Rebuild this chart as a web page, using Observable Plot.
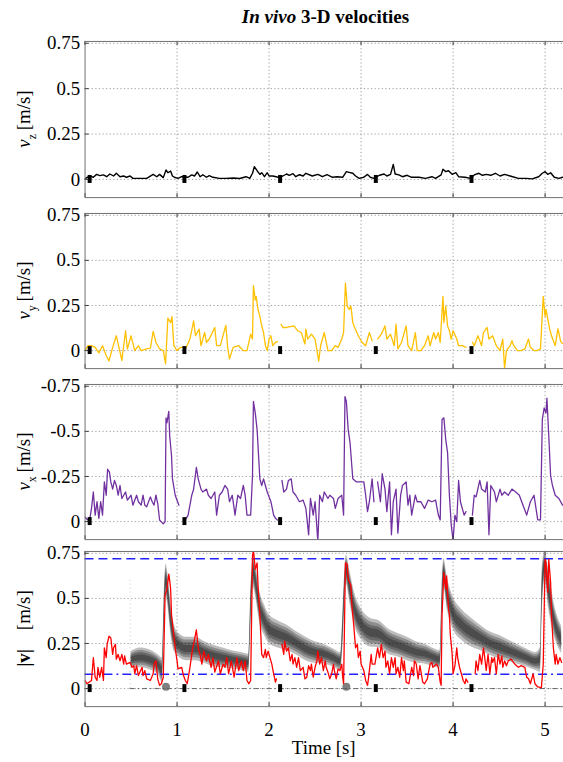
<!DOCTYPE html>
<html><head><meta charset="utf-8">
<script src="https://cdn.jsdelivr.net/npm/d3@7"></script>
<script src="https://cdn.jsdelivr.net/npm/@observablehq/plot@0.6"></script>
<style>
html,body{margin:0;padding:0;background:#fff;overflow:hidden;width:563px;height:762px}
#title{height:30px;width:481px;padding-left:85px;text-align:center;font:bold 19px "Liberation Serif",serif;line-height:34px;white-space:nowrap}
svg{display:block}
</style></head><body>
<div id="title"><i>In vivo</i> 3-D velocities</div>
<div id="charts"></div>
<script>
// ---- data (time [s], value [m/s]); null = gap between cardiac cycles ----
const xTicks = [0, 1, 2, 3, 4, 5];
const yTicksPos = [0, 0.25, 0.5, 0.75];
const yTicksNeg = [0, -0.25, -0.5, -0.75];
const ecgMarkers = [0.05, 1.08, 2.12, 3.16, 4.2];
const vLimits = [0.72, 0.08];          // upper dashed / lower dash-dot blue lines
const greyBaseStart = 0.49;

const vz = [[0,0.005],[0.054,0.02],[0.09,0.012],[0.126,0.028],[0.16,0.021],[0.2,0.025],[0.235,0.015],[0.27,0.03],[0.31,0.019],[0.34,0.034],[0.38,0.015],[0.42,0.019],[0.45,0.012],[0.49,0.019],[0.52,0.006],[0.6,0.006],[0.67,0.006],[0.74,0.028],[0.78,0.015],[0.81,0.028],[0.85,0.01],[0.88,0.052],[0.9,0.037],[0.93,0.046],[0.95,0.019],[0.97,0.012],[1.01,0.006],[1.05,0.015],[1.12,0.012],[1.16,0.025],[1.19,0.019],[1.22,0.041],[1.25,0.015],[1.28,0.026],[1.32,0.012],[1.35,0.021],[1.39,0.012],[1.46,0.006],[1.53,0.006],[1.61,0.008],[1.68,0.005],[1.75,0.015],[1.79,0.006],[1.82,0.034],[1.84,0.07],[1.87,0.048],[1.9,0.028],[1.92,0.037],[1.95,0.015],[1.98,0.037],[2.0,0.019],[2.04,0.019],[2.1,0.012],[2.15,0.019],[2.19,0.03],[2.22,0.023],[2.26,0.032],[2.29,0.015],[2.33,0.026],[2.37,0.019],[2.4,0.034],[2.47,0.019],[2.53,0.028],[2.58,0.015],[2.63,0.026],[2.69,0.012],[2.74,0.015],[2.8,0.012],[2.84,0.043],[2.87,0.039],[2.91,0.034],[2.94,0.019],[2.98,0.006],[3.03,0.012],[3.07,0.028],[3.1,0.012],[3.14,0.006],[3.2,0.023],[3.25,0.03],[3.28,0.019],[3.32,0.028],[3.35,0.083],[3.37,0.03],[3.41,0.025],[3.45,0.015],[3.5,0.023],[3.55,0.012],[3.63,0.012],[3.7,0.006],[3.77,0.015],[3.81,0.006],[3.87,0.025],[3.89,0.056],[3.92,0.043],[3.95,0.048],[3.99,0.028],[4.03,0.037],[4.06,0.015],[4.13,0.012],[4.19,0.006],[4.23,0.025],[4.28,0.034],[4.32,0.023],[4.36,0.028],[4.41,0.023],[4.46,0.034],[4.51,0.019],[4.56,0.028],[4.62,0.019],[4.71,0.006],[4.79,0.006],[4.86,0.003],[4.93,0.015],[4.97,0.034],[5.0,0.043],[5.03,0.028],[5.06,0.037],[5.1,0.012],[5.15,0.006],[5.19,0.012]];

const vy = [[0,0],[0.03,0.027],[0.07,0.027],[0.11,0.018],[0.15,-0.013],[0.19,0.027],[0.23,-0.027],[0.26,-0.058],[0.3,0.018],[0.34,0.082],[0.38,-0.009],[0.4,-0.055],[0.44,0.11],[0.46,0.009],[0.5,0.082],[0.54,0],[0.58,0.027],[0.61,0],[0.67,0.009],[0.71,0.013],[0.74,0.106],[0.77,0.046],[0.81,0.009],[0.85,0],[0.875,-0.073],[0.9,0.18],[0.93,0.155],[0.945,0.188],[0.965,0.027],[1.0,0],[1.04,0.018],[1.1,0.018],[1.14,0.064],[1.18,0.164],[1.2,0.082],[1.24,0.119],[1.26,0.027],[1.3,0.1],[1.32,0.046],[1.35,0.064],[1.41,0.128],[1.43,0.027],[1.47,0.027],[1.53,0.14],[1.55,0.018],[1.57,-0.046],[1.61,0.018],[1.67,0.027],[1.72,0],[1.76,0],[1.8,0.091],[1.82,0.064],[1.83,0.36],[1.85,0.28],[1.86,0.3],[1.88,0.228],[1.9,0.19],[1.92,0.137],[1.94,0.1],[1.96,0.027],[1.98,0],[2.0,0.064],[2.02,0.082],[2.04,0.027],[2.07,0.046],[2.09,0.05],[2.11,null],[2.13,0.146],[2.15,0.128],[2.19,0.128],[2.23,0.133],[2.27,0.137],[2.31,0.11],[2.35,0.1],[2.39,0.036],[2.4,0.119],[2.42,0.064],[2.46,0.091],[2.5,0.064],[2.54,-0.058],[2.56,0.027],[2.6,0.1],[2.64,0],[2.68,0],[2.72,0.027],[2.75,0.018],[2.79,0.064],[2.81,0.1],[2.83,0.374],[2.85,0.246],[2.87,0.228],[2.89,0.246],[2.91,0.155],[2.93,0.128],[2.97,0.082],[3.01,0.046],[3.05,0.027],[3.09,0.1],[3.12,0.055],[3.15,null],[3.18,0.064],[3.22,0.091],[3.26,0.137],[3.28,0.064],[3.32,0.091],[3.36,0.027],[3.38,0.146],[3.4,0.009],[3.44,0.046],[3.47,0.1],[3.49,0.137],[3.51,0.027],[3.55,0],[3.59,0.1],[3.61,0],[3.65,0],[3.69,0.027],[3.73,0.082],[3.75,0.027],[3.79,0.1],[3.81,0.064],[3.84,0.1],[3.86,0.046],[3.89,0.3],[3.9,0.155],[3.92,0.246],[3.94,0.137],[3.96,0.11],[3.98,0.064],[4.0,0.11],[4.04,0.064],[4.06,0.027],[4.1,0.027],[4.14,0.018],[4.18,null],[4.21,0.046],[4.23,0.027],[4.27,0.082],[4.31,0.027],[4.33,0.1],[4.37,0.128],[4.39,0.064],[4.43,0.082],[4.47,0.027],[4.51,0],[4.54,0.064],[4.56,-0.1],[4.58,0],[4.62,0.027],[4.64,0.055],[4.66,0.027],[4.7,0],[4.74,0],[4.78,0.009],[4.82,0.064],[4.84,0.018],[4.88,0],[4.91,0],[4.95,0.009],[4.98,0.3],[5.0,0.19],[5.01,0.228],[5.05,0.119],[5.07,0.082],[5.11,0.027],[5.14,0.12],[5.17,0.05],[5.19,0.04]];

const vx = [[0,-0.024],[0.03,-0.009],[0.05,-0.009],[0.07,-0.073],[0.09,-0.164],[0.11,-0.036],[0.13,-0.11],[0.15,-0.018],[0.17,-0.11],[0.19,-0.036],[0.21,-0.22],[0.23,-0.146],[0.245,-0.29],[0.265,-0.274],[0.28,-0.22],[0.3,-0.18],[0.32,-0.228],[0.34,-0.2],[0.36,-0.146],[0.38,-0.2],[0.4,-0.128],[0.44,-0.164],[0.46,-0.119],[0.5,-0.146],[0.52,-0.091],[0.56,-0.146],[0.58,-0.11],[0.61,-0.091],[0.63,-0.146],[0.65,-0.091],[0.67,-0.082],[0.71,-0.137],[0.73,-0.11],[0.75,-0.091],[0.77,-0.146],[0.79,-0.1],[0.81,-0.009],[0.85,0.013],[0.87,0],[0.88,-0.575],[0.89,-0.547],[0.91,-0.611],[0.92,-0.474],[0.94,-0.365],[0.95,-0.237],[0.98,-0.146],[1.02,-0.091],[1.06,null],[1.1,-0.018],[1.12,-0.036],[1.16,-0.146],[1.18,-0.18],[1.21,-0.3],[1.23,-0.237],[1.26,-0.18],[1.28,-0.164],[1.32,-0.18],[1.34,-0.146],[1.37,-0.128],[1.41,-0.164],[1.43,-0.036],[1.46,-0.146],[1.49,-0.164],[1.52,-0.2],[1.55,-0.18],[1.57,-0.11],[1.6,-0.146],[1.63,-0.036],[1.66,-0.146],[1.69,-0.128],[1.72,-0.2],[1.74,-0.146],[1.76,-0.036],[1.8,-0.036],[1.82,-0.255],[1.83,-0.666],[1.85,-0.602],[1.87,-0.51],[1.9,-0.237],[1.92,-0.2],[1.94,-0.237],[1.96,-0.2],[1.98,-0.164],[2.02,-0.11],[2.05,-0.036],[2.07,-0.018],[2.09,-0.009],[2.11,null],[2.14,-0.228],[2.16,-0.164],[2.19,-0.18],[2.21,-0.228],[2.24,-0.237],[2.26,-0.164],[2.29,-0.146],[2.33,-0.11],[2.37,-0.119],[2.4,-0.073],[2.43,0.073],[2.45,-0.128],[2.48,-0.036],[2.5,-0.11],[2.53,0.11],[2.55,-0.146],[2.58,-0.11],[2.6,-0.164],[2.64,-0.128],[2.66,-0.146],[2.7,-0.128],[2.72,-0.073],[2.75,-0.128],[2.79,-0.146],[2.81,-0.036],[2.825,-0.693],[2.84,-0.666],[2.86,-0.51],[2.88,-0.438],[2.91,-0.237],[2.95,-0.22],[2.99,-0.22],[3.03,-0.22],[3.05,-0.146],[3.07,-0.055],[3.09,-0.11],[3.12,-0.237],[3.14,-0.11],[3.16,null],[3.18,-0.22],[3.21,-0.11],[3.23,-0.265],[3.26,-0.18],[3.28,-0.055],[3.31,-0.22],[3.33,0.073],[3.35,-0.11],[3.38,-0.18],[3.4,0.064],[3.43,-0.146],[3.45,-0.2],[3.49,-0.22],[3.51,-0.091],[3.53,-0.146],[3.55,-0.036],[3.59,-0.146],[3.61,-0.11],[3.65,-0.11],[3.69,-0.073],[3.73,-0.119],[3.77,-0.11],[3.81,-0.119],[3.84,-0.036],[3.86,-0.009],[3.88,-0.566],[3.9,-0.575],[3.92,-0.456],[3.94,-0.383],[3.96,-0.146],[3.98,0.018],[4.0,0.104],[4.02,-0.036],[4.04,0],[4.06,-0.228],[4.08,-0.11],[4.12,-0.036],[4.14,-0.055],[4.18,null],[4.21,-0.036],[4.23,-0.146],[4.25,-0.137],[4.29,-0.228],[4.31,-0.18],[4.35,-0.164],[4.37,-0.22],[4.39,0.073],[4.41,-0.2],[4.45,-0.164],[4.47,-0.11],[4.51,-0.18],[4.53,-0.146],[4.56,-0.164],[4.6,-0.146],[4.64,-0.18],[4.68,-0.164],[4.72,-0.146],[4.76,-0.091],[4.8,-0.036],[4.84,-0.11],[4.88,-0.146],[4.92,-0.009],[4.95,-0.009],[4.97,-0.566],[4.99,-0.63],[5.01,-0.602],[5.02,-0.684],[5.04,-0.474],[5.06,-0.255],[5.08,-0.2],[5.11,-0.146],[5.15,-0.128],[5.19,-0.091]];

const vmag = [[0,0.045],[0.02,0.027],[0.07,0.045],[0.09,0.172],[0.11,0.063],[0.13,0.045],[0.14,0.118],[0.16,0.063],[0.18,0.118],[0.2,0.045],[0.21,0.226],[0.23,0.172],[0.24,0.245],[0.26,0.29],[0.28,0.281],[0.3,0.19],[0.31,0.226],[0.33,0.245],[0.34,0.163],[0.36,0.19],[0.38,0.154],[0.4,0.19],[0.42,0.136],[0.43,0.181],[0.45,0.136],[0.49,0.145],[0.51,0.118],[0.53,0.127],[0.54,0.082],[0.56,0.127],[0.58,0.072],[0.62,0.118],[0.63,0.072],[0.65,0.1],[0.67,0.054],[0.71,0.045],[0.74,0.082],[0.75,0.136],[0.77,0.154],[0.79,0.054],[0.81,0.018],[0.83,0.027],[0.85,0.063],[0.87,0.516],[0.89,0.553],[0.91,0.634],[0.92,0.598],[0.93,0.553],[0.94,0.408],[0.96,0.317],[0.98,0.226],[1.0,0.154],[1.01,0.109],[1.05,0.118],[1.07,0.072],[1.09,0.045],[1.11,0.027],[1.12,0.054],[1.14,0.118],[1.17,0.226],[1.18,0.245],[1.21,0.326],[1.23,0.226],[1.25,0.19],[1.27,0.136],[1.29,0.208],[1.32,0.154],[1.34,0.19],[1.37,0.118],[1.39,0.172],[1.41,0.091],[1.45,0.154],[1.47,0.082],[1.5,0.136],[1.52,0.118],[1.54,0.172],[1.56,0.082],[1.59,0.154],[1.62,0.063],[1.65,0.172],[1.67,0.1],[1.7,0.154],[1.72,0.1],[1.74,0.154],[1.76,0.045],[1.78,0.027],[1.8,0.045],[1.82,0.734],[1.83,0.77],[1.85,0.661],[1.87,0.697],[1.88,0.571],[1.9,0.408],[1.92,0.19],[1.94,0.172],[1.96,0.217],[1.97,0.172],[1.99,0.208],[2.01,0.172],[2.03,0.136],[2.05,0.082],[2.07,0.036],[2.08,0.054],[2.11,null],[2.14,0.245],[2.16,0.19],[2.17,0.263],[2.19,0.208],[2.21,0.226],[2.23,0.154],[2.25,0.19],[2.26,0.136],[2.28,0.172],[2.3,0.118],[2.32,0.172],[2.34,0.1],[2.37,0.118],[2.39,0.054],[2.41,0.063],[2.43,0.127],[2.45,0.1],[2.46,0.136],[2.48,0.063],[2.5,0.118],[2.52,0.154],[2.53,0.208],[2.55,0.136],[2.57,0.172],[2.59,0.1],[2.61,0.154],[2.62,0.118],[2.64,0.091],[2.66,0.054],[2.68,0.082],[2.7,0.136],[2.71,0.1],[2.73,0.054],[2.75,0.109],[2.77,0.1],[2.79,0.136],[2.8,0.063],[2.81,0.027],[2.83,0.697],[2.85,0.688],[2.86,0.607],[2.89,0.571],[2.9,0.462],[2.92,0.353],[2.94,0.226],[2.96,0.245],[2.97,0.172],[2.99,0.208],[3.0,0.136],[3.03,0.1],[3.05,0.045],[3.07,0.018],[3.08,0.054],[3.11,0.19],[3.12,0.136],[3.15,0.136],[3.18,0.226],[3.2,0.172],[3.22,0.245],[3.24,0.172],[3.26,0.208],[3.27,0.118],[3.29,0.154],[3.31,0.082],[3.33,0.172],[3.35,0.118],[3.37,0.172],[3.38,0.082],[3.4,0.118],[3.42,0.063],[3.44,0.172],[3.46,0.1],[3.47,0.154],[3.49,0.036],[3.52,0.027],[3.55,0.118],[3.57,0.072],[3.58,0.154],[3.6,0.136],[3.62,0.054],[3.64,0.127],[3.67,0.036],[3.69,0.027],[3.72,0.054],[3.75,0.136],[3.77,0.145],[3.78,0.118],[3.82,0.136],[3.84,0.118],[3.86,0.036],[3.87,0.018],[3.88,0.408],[3.9,0.643],[3.92,0.553],[3.93,0.625],[3.95,0.444],[3.96,0.408],[3.97,0.299],[3.99,0.19],[4.0,0.082],[4.02,0.127],[4.04,0.226],[4.05,0.172],[4.07,0.118],[4.09,0.082],[4.11,0.045],[4.13,0.027],[4.14,0.054],[4.16,0.036],[4.2,null],[4.24,0.082],[4.25,0.154],[4.27,0.1],[4.29,0.19],[4.31,0.136],[4.33,0.226],[4.34,0.19],[4.36,0.1],[4.38,0.19],[4.4,0.082],[4.42,0.172],[4.43,0.145],[4.45,0.172],[4.47,0.082],[4.49,0.19],[4.51,0.136],[4.53,0.181],[4.54,0.118],[4.56,0.154],[4.58,0.127],[4.6,0.154],[4.63,0.163],[4.67,0.136],[4.71,0.118],[4.74,0.127],[4.78,0.118],[4.8,0.063],[4.82,0.054],[4.84,0.027],[4.87,0.082],[4.89,0.027],[4.92,0.009],[4.96,0.005],[4.98,0.136],[5.0,0.716],[5.01,0.697],[5.03,0.534],[5.04,0.716],[5.06,0.589],[5.07,0.408],[5.09,0.226],[5.11,0.136],[5.12,0.19],[5.14,0.136],[5.16,0.172],[5.18,0.145]];

// grey probabilistic band under |v|: [time, centre, half-spread]
const greyBand = [[0.5,0.16,0.045],[0.6,0.17,0.055],[0.7,0.16,0.055],[0.8,0.13,0.055],[0.84,0.1,0.07],[0.86,0.4,0.11],[0.88,0.6,0.09],[0.9,0.55,0.09],[0.93,0.4,0.09],[0.97,0.28,0.075],[1.02,0.24,0.065],[1.1,0.22,0.065],[1.2,0.22,0.065],[1.3,0.2,0.06],[1.4,0.18,0.06],[1.5,0.17,0.055],[1.6,0.16,0.05],[1.7,0.15,0.05],[1.78,0.14,0.05],[1.8,0.4,0.11],[1.83,0.65,0.09],[1.86,0.58,0.09],[1.9,0.45,0.09],[1.95,0.38,0.085],[2.0,0.33,0.08],[2.1,0.3,0.075],[2.2,0.28,0.07],[2.3,0.25,0.065],[2.4,0.22,0.065],[2.5,0.2,0.06],[2.6,0.19,0.055],[2.7,0.17,0.05],[2.78,0.15,0.05],[2.81,0.4,0.11],[2.84,0.66,0.08],[2.88,0.56,0.09],[2.93,0.44,0.09],[3.0,0.36,0.085],[3.1,0.31,0.08],[3.2,0.3,0.075],[3.3,0.26,0.07],[3.4,0.24,0.065],[3.5,0.22,0.065],[3.6,0.2,0.06],[3.7,0.19,0.055],[3.8,0.17,0.05],[3.86,0.16,0.05],[3.88,0.45,0.11],[3.9,0.64,0.08],[3.94,0.52,0.09],[4.0,0.42,0.09],[4.1,0.35,0.085],[4.2,0.31,0.08],[4.3,0.28,0.07],[4.4,0.25,0.065],[4.5,0.23,0.065],[4.6,0.21,0.06],[4.7,0.19,0.055],[4.8,0.17,0.05],[4.9,0.15,0.05],[4.95,0.16,0.07],[4.97,0.55,0.13],[5.0,0.68,0.08],[5.04,0.55,0.11],[5.1,0.38,0.09],[5.18,0.27,0.075]];
const greyBlobs = [0.88, 2.84];
const bandLayers = [1.0, 0.75, 0.52, 0.3];   // relative spreads of the nested soft layers

// ---- layout ----
const FONT = '"Liberation Serif", "Times New Roman", serif';
const W = 566, ML = 85;
const X = d => d[0], Y = d => d[1];

function panel({height, mt, mb, domain, yTicks, fmt, marks, xLabels}) {
  const fh = height - mt - mb;
  const dy = (domain[1] - domain[0]) * 4 / fh;      // 4px inward tick length in y units
  const dx = 5.2 * 4 / (W - ML);
  return Plot.plot({
    width: W, height, marginLeft: ML, marginRight: 0, marginTop: mt, marginBottom: mb,
    style: {fontFamily: FONT, fontSize: "19px", color: "#000", background: "#fff", overflow: "visible"},
    x: {domain: [0, 5.2], axis: null},
    y: {domain, axis: null},
    marks: [
      Plot.ruleX(xTicks.filter(t => t > 0), {x: d => d, stroke: "#9a9a9a", strokeDasharray: "1.2,2.4"}),
      Plot.ruleY(yTicks, {y: d => d, stroke: "#9a9a9a", strokeDasharray: "1.2,2.4"}),
      ...marks,
      Plot.ruleX(ecgMarkers, {x: d => d, y1: -0.022, y2: 0.022, stroke: "#000", strokeWidth: 4}),
      Plot.ruleX(xTicks, {x: d => d, y1: domain[0], y2: domain[0] + dy, stroke: "#333"}),
      Plot.ruleX(xTicks, {x: d => d, y1: domain[1] - dy, y2: domain[1], stroke: "#333"}),
      Plot.ruleY(yTicks, {y: d => d, x1: 0, x2: dx, stroke: "#333"}),
      Plot.frame({stroke: "#707070"}),
      Plot.text(yTicks, {x: 0, y: d => d, text: fmt, textAnchor: "end", dx: -5, fontSize: 19, fontFamily: FONT, fill: "#000"}),
      xLabels ? Plot.text(xTicks, {x: d => d, y: domain[0], text: d => String(d), dy: 23, fontSize: 19, fontFamily: FONT, fill: "#000"}) : null
    ]
  });
}

const fmtPos = d => String(d);
const fmtNeg = d => d === 0 ? "0" : "-" + String(Math.abs(d));

const p1 = panel({height: 176, mt: 11, mb: 8, domain: [-0.1, 0.76], yTicks: yTicksPos, fmt: fmtPos,
  marks: [Plot.line(vz, {x: X, y: Y, stroke: "#000", strokeWidth: 1.4, clip: true})]});
const p2 = panel({height: 172, mt: 8, mb: 8, domain: [-0.1, 0.76], yTicks: yTicksPos, fmt: fmtPos,
  marks: [Plot.line(vy, {x: X, y: Y, stroke: "#FFC000", strokeWidth: 1.3, clip: true})]});
const p3 = panel({height: 170, mt: 8, mb: 6, domain: [0.1, -0.76], yTicks: yTicksNeg, fmt: fmtNeg,
  marks: [Plot.line(vx, {x: X, y: Y, stroke: "#7030A0", strokeWidth: 1.3, clip: true})]});
const p4 = panel({height: 214, mt: 6, mb: 52, domain: [-0.1, 0.76], yTicks: yTicksPos, fmt: fmtPos, xLabels: true,
  marks: [
    ...bandLayers.map(k => Plot.areaY(greyBand, {x: X, y1: d => d[1] - d[2] * k, y2: d => d[1] + d[2] * k, fill: "#000", fillOpacity: 0.26, curve: "monotone-x", clip: true})),
    Plot.dot(greyBlobs, {x: d => d, y: 0.01, r: 4, fill: "#000", fillOpacity: 0.5}),
    Plot.ruleX([greyBaseStart], {x: d => d, y1: 0, y2: 0.6, stroke: "#c8c8c8", strokeDasharray: "1,3"}),
    Plot.ruleY([0], {y: d => d, x1: greyBaseStart, x2: 5.2, stroke: "#666", strokeDasharray: "5,3,1.5,3"}),
    Plot.ruleY([vLimits[0]], {y: d => d, stroke: "#2222ff", strokeWidth: 1.5, strokeDasharray: "9,5"}),
    Plot.ruleY([vLimits[1]], {y: d => d, stroke: "#2222ff", strokeWidth: 1.5, strokeDasharray: "9,4,2,4"}),
    Plot.line(vmag, {x: X, y: Y, stroke: "#ff0000", strokeWidth: 1.3, clip: true})
  ]});

const host = document.getElementById("charts");
[p1, p2, p3, p4].forEach(p => host.appendChild(p));

// y-axis titles with subscripts
function yLabel(svg, cy, parts) {
  const t = d3.select(svg).append("text")
    .attr("transform", `translate(30,${cy}) rotate(-90)`)
    .attr("text-anchor", "middle").attr("font-family", FONT).attr("font-size", 19).attr("fill", "#000");
  parts(t);
}
const sub = s => t => {
  t.append("tspan").attr("font-style", "italic").text("v");
  t.append("tspan").attr("font-size", 12).attr("dy", 6).text(s);
  t.append("tspan").attr("dy", -6).text("\u2009[m/s]");
};
yLabel(p1, 11 + 157 / 2, sub("z"));
yLabel(p2, 8 + 156 / 2, sub("y"));
yLabel(p3, 8 + 156 / 2, sub("x"));
yLabel(p4, 6 + 156 / 2, t => {
  t.append("tspan").attr("font-weight", "bold").text("|v|");
  t.append("tspan").text("\u2002\u2002[m/s]");
});
d3.select(p4).append("text").attr("x", (ML + W) / 2).attr("y", 210)
  .attr("text-anchor", "middle").attr("font-family", FONT).attr("font-size", 19).attr("fill", "#000")
  .text("Time [s]");
</script>
</body></html>
